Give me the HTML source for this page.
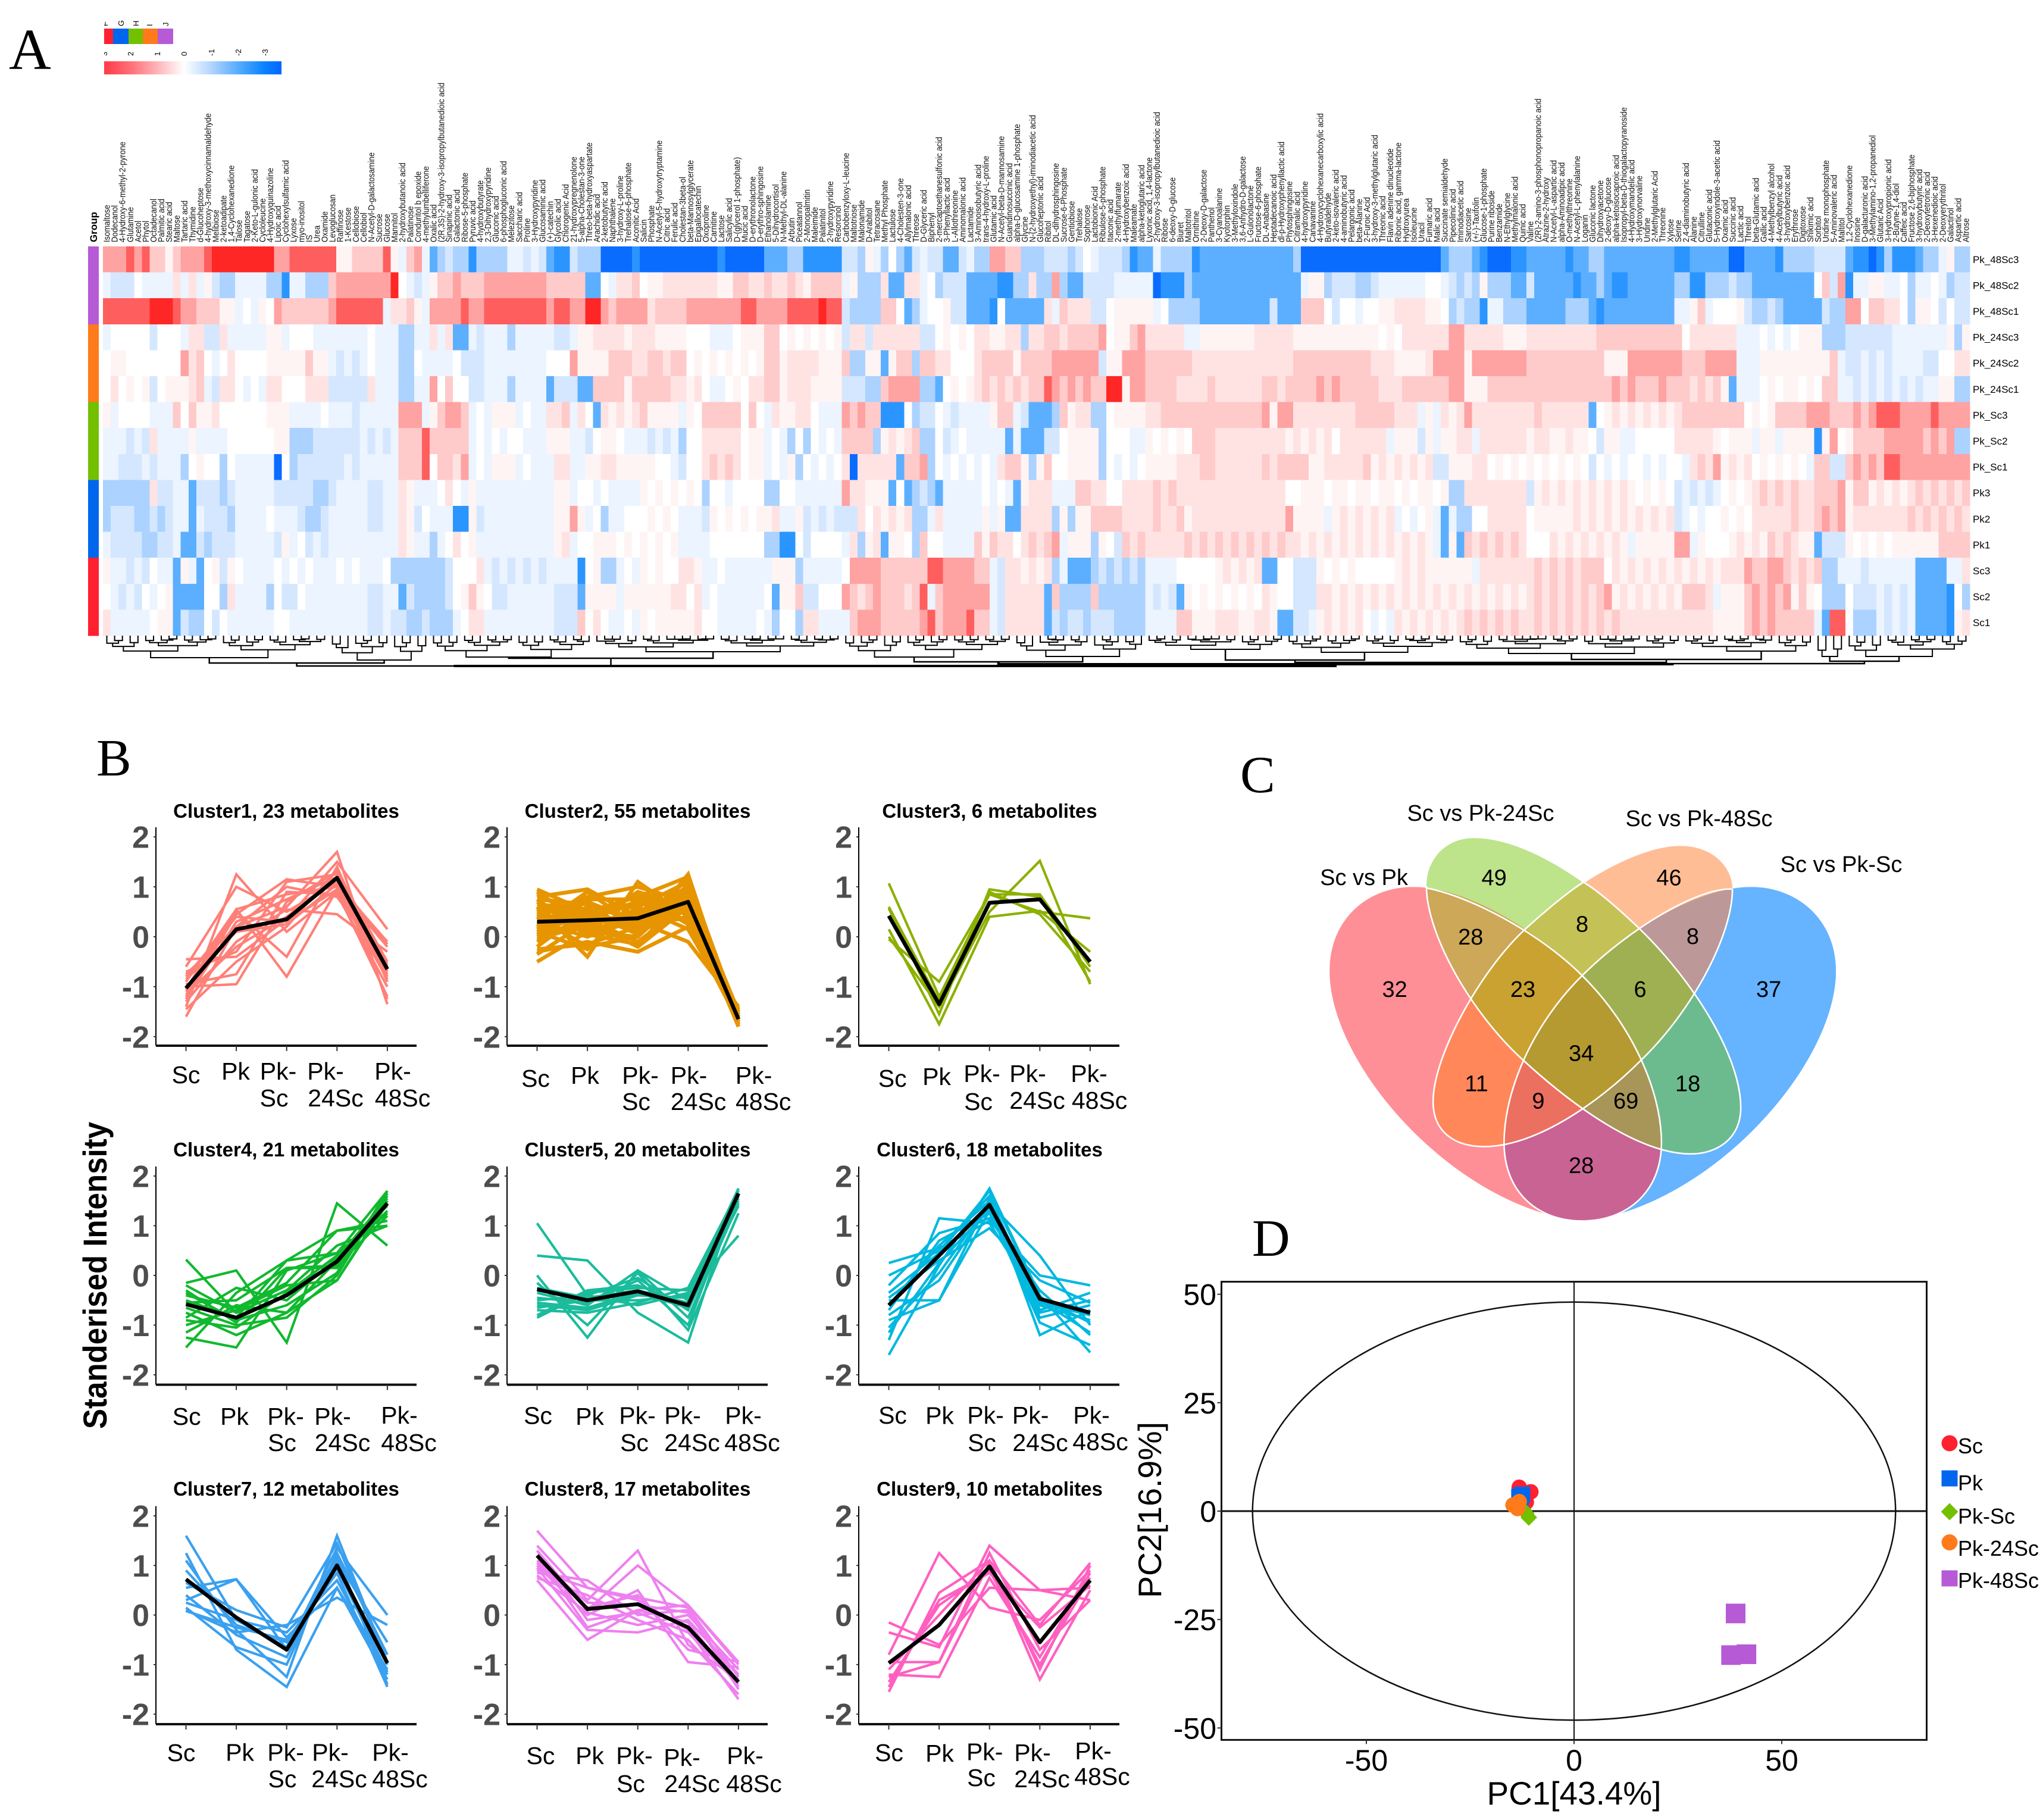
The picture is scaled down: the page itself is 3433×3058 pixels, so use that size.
<!DOCTYPE html>
<html lang="en">
<head>
<meta charset="utf-8">
<title>Metabolomics figure: heatmap, clusters, Venn and PCA</title>
<style>
html,body{margin:0;padding:0;background:#fff;}
svg{display:block;font-family:"Liberation Sans",sans-serif;}
.serif{font-family:"Liberation Serif",serif;}
</style>
</head>
<body>
<svg id="fig" xmlns="http://www.w3.org/2000/svg" width="3433" height="3058" viewBox="0 0 3433 3058">
<defs>
<linearGradient id="legendGrad" x1="0" x2="1" y1="0" y2="0">
<stop offset="0" stop-color="#ff3a46"/><stop offset="0.15" stop-color="#ff7078"/><stop offset="0.3" stop-color="#ffb4b8"/><stop offset="0.45" stop-color="#ffffff"/><stop offset="0.6" stop-color="#b4d6ff"/><stop offset="0.75" stop-color="#5aaeff"/><stop offset="0.9" stop-color="#0a84ff"/><stop offset="1" stop-color="#0066ff"/>
</linearGradient>
<clipPath id="legendClip"><rect x="175" y="20" width="320" height="80"/></clipPath>
<clipPath id="vR"><path d="M700 1470C400 1400 120 950 120 650C120 480 210 373 320 373C450 373 620 520 725 665C840 820 915 1040 915 1215C915 1380 830 1473 725 1473Z"/></clipPath>
<clipPath id="vG"><path d="M465 212C600 212 760 380 862 510C990 680 1105 930 1105 1100C1105 1200 1050 1252 985 1252C860 1252 700 1090 585 945C460 790 352 530 352 370C352 280 400 212 465 212Z"/></clipPath>
<clipPath id="vO"><path d="M960 238C1040 238 1085 310 1085 380C1085 530 990 780 865 945C760 1090 610 1228 490 1228C420 1228 368 1180 368 1080C368 930 480 650 590 510C690 380 850 238 960 238Z"/></clipPath>
<clipPath id="vB"><path d="M725 1473C620 1473 538 1380 538 1215C538 1040 610 820 725 665C830 520 1000 373 1130 373C1240 373 1333 480 1333 650C1333 950 1050 1400 750 1470Z"/></clipPath>
</defs>

<text class="serif" x="15" y="116" font-size="98">A</text>
<text class="serif" x="162" y="1303" font-size="88">B</text>
<text class="serif" x="2084" y="1331" font-size="88">C</text>
<text class="serif" x="2104" y="2110" font-size="88">D</text>

<g>
<rect x="175" y="48" width="15" height="26" fill="#ff2030"/>
<rect x="190" y="48" width="26" height="26" fill="#0066ee"/>
<rect x="216" y="48" width="24" height="26" fill="#72c000"/>
<rect x="240" y="48" width="25" height="26" fill="#ff7a1a"/>
<rect x="265" y="48" width="26" height="26" fill="#b65ad6"/>
<g clip-path="url(#legendClip)" font-size="13">
<text transform="translate(181,44) rotate(-90)">F</text>
<text transform="translate(208,44) rotate(-90)">G</text>
<text transform="translate(233,44) rotate(-90)">H</text>
<text transform="translate(256,44) rotate(-90)">I</text>
<text transform="translate(283,44) rotate(-90)">J</text>
</g>
</g>
<g>
<rect x="175" y="103" width="298" height="22" fill="url(#legendGrad)"/>
<g clip-path="url(#legendClip)" font-size="13">
<text transform="translate(180,94) rotate(-90)">3</text>
<text transform="translate(224,94) rotate(-90)">2</text>
<text transform="translate(269,94) rotate(-90)">1</text>
<text transform="translate(314,94) rotate(-90)">0</text>
<text transform="translate(360,94) rotate(-90)">-1</text>
<text transform="translate(405,94) rotate(-90)">-2</text>
<text transform="translate(450,94) rotate(-90)">-3</text>
</g>
</g>

<g id="heatmap"></g>
<g id="dendrogram" fill="none" stroke="#000"></g>
<g id="clusters"></g>
<text transform="translate(179,2143) rotate(-90)" text-anchor="middle" font-weight="bold" font-size="56" textLength="516" lengthAdjust="spacingAndGlyphs">Standerised Intensity</text>

<g id="venn">
<g transform="translate(2150,1300) scale(0.7015,0.5102)">
<rect clip-path="url(#vR)" x="0" y="0" width="1568" height="1568" fill="#ff8f96"/>
<rect clip-path="url(#vB)" x="0" y="0" width="1568" height="1568" fill="#66b3ff"/>
<rect clip-path="url(#vG)" x="0" y="0" width="1568" height="1568" fill="#bde38b"/>
<rect clip-path="url(#vO)" x="0" y="0" width="1568" height="1568" fill="#ffbd96"/>
<g clip-path="url(#vR)"><rect clip-path="url(#vG)" width="1568" height="1568" fill="#cca858"/></g>
<g clip-path="url(#vR)"><rect clip-path="url(#vO)" width="1568" height="1568" fill="#ff875a"/></g>
<g clip-path="url(#vR)"><rect clip-path="url(#vB)" width="1568" height="1568" fill="#c96394"/></g>
<g clip-path="url(#vG)"><rect clip-path="url(#vO)" width="1568" height="1568" fill="#c4c256"/></g>
<g clip-path="url(#vG)"><rect clip-path="url(#vB)" width="1568" height="1568" fill="#6cbb8e"/></g>
<g clip-path="url(#vO)"><rect clip-path="url(#vB)" width="1568" height="1568" fill="#bd9898"/></g>
<g clip-path="url(#vR)"><g clip-path="url(#vG)"><rect clip-path="url(#vO)" width="1568" height="1568" fill="#c9a231"/></g></g>
<g clip-path="url(#vR)"><g clip-path="url(#vG)"><rect clip-path="url(#vB)" width="1568" height="1568" fill="#a89558"/></g></g>
<g clip-path="url(#vR)"><g clip-path="url(#vO)"><rect clip-path="url(#vB)" width="1568" height="1568" fill="#ec7060"/></g></g>
<g clip-path="url(#vG)"><g clip-path="url(#vO)"><rect clip-path="url(#vB)" width="1568" height="1568" fill="#9fb053"/></g></g>
<g clip-path="url(#vR)"><g clip-path="url(#vG)"><g clip-path="url(#vO)"><rect clip-path="url(#vB)" width="1568" height="1568" fill="#b59a31"/></g></g></g>
<g fill="none" stroke="#fff" stroke-width="2.6">
<path vector-effect="non-scaling-stroke" d="M350 376C450 400 620 520 725 665C840 820 915 1040 915 1215C915 1380 830 1473 725 1473"/>
<path vector-effect="non-scaling-stroke" d="M725 1473C620 1473 538 1380 538 1215C538 1040 610 820 725 665C830 520 1000 373 1085 380"/>
<path vector-effect="non-scaling-stroke" d="M862 510C990 680 1105 930 1105 1100C1105 1200 1050 1252 985 1252C860 1252 700 1090 585 945C460 790 352 530 352 370"/>
<path vector-effect="non-scaling-stroke" d="M590 510C480 650 368 930 368 1080C368 1180 420 1228 490 1228C610 1228 760 1090 865 945C990 780 1085 530 1085 380"/>
<path vector-effect="non-scaling-stroke" d="M725 355C760 380 820 455 862 510"/>
<path vector-effect="non-scaling-stroke" d="M590 510C630 460 690 390 730 355"/>
</g>
</g>
<g font-size="38" text-anchor="middle">
<text x="2292" y="1487">Sc vs Pk</text>
<text x="2488" y="1379">Sc vs Pk-24Sc</text>
<text x="2855" y="1388">Sc vs Pk-48Sc</text>
<text x="3094" y="1465">Sc vs Pk-Sc</text>
</g>
<g font-size="38" text-anchor="middle" id="vennCounts"></g>
</g>

<g id="pca"></g>

<script>
const metabolites = ["Isomaltose","Dodecanol","4-Hydroxy-6-methyl-2-pyrone","Glutamine","Acetol","Phytol","Octadecanol","Palmitic acid","Stearic acid","Maltose","Tartaric acid","Thymidine","d-Glucoheptose","4-hydroxy-3-methoxycinnamaldehyde","Melibiose","2-ketoadipate","1,4-Cyclohexanedione","Talose","Tagatose","2-Keto-L-gulonic acid","Cycloleucine","4-Hydroxyquinazoline","Lipoic acid","Cyclohexylsulfamic acid","Lyxose","myo-inositol","IS","Urea","Oxamide","Levoglucosan","Raffinose","1-Kestose","Cellobiose","Cellobiol","N-Acetyl-D-galactosamine","Sucrose","Glucose","Mannitol","2-hydroxybutanoic acid","Palatinose","Conduritol b epoxide","4-methylumbelliferone","Oxalic acid","(2R,3S)-2-hydroxy-3-isopropylbutanedioic acid","Sinapinic acid","Galactonic acid","Ribose-5-phosphate","Pyruvic acid","4-hydroxybutyrate","2,3-Dihydroxypyridine","Gluconic acid","6-phosphogluconic acid","Melezitose","Saccharic acid","Proline","3-Hydroxypyridine","Glucosaminic acid","(+)-catechin","Glycolic acid","Chlorogenic Acid","21-hydroxypregnenolone","5-alpha-Cholestan-3-one","Threo-beta-hydroxyaspartate","Arachidic acid","2-ketobutyric acid","Naphthalene","3-hydroxy-L-proline","Trehalose-6-phosphate","Aconitic Acid","Salicin","Phosphate","N-Acetyl-5-hydroxytryptamine","Citric acid","Ferulic acid","Cholestan-3beta-ol","beta-Mannosylglycerate","Epigallocatechin","Oxoproline","Carnitine","Lactose","Salicylic acid","D-(glycerol 1-phosphate)","Mucic acid","D-erythronolactone","D-erythro-sphingosine","Ethanolamine","5-Dihydrocortisol","N-Methyl-DL-alanine","Arbutin","Piceatannol","2-Monopalmitin","Maleimide","Palatinitol","2-hydroxypyridine","Resorcinol","Carbobenzyloxy-L-leucine","Maltotriose","Malonamide","D-Arabitol","Tetracosane","Methyl Phosphate","Lactulose","4-Cholesten-3-one","Allylmalonic acid","Threose","D-Glyceric acid","Biphenyl","2-mercaptoethanesulfonic acid","3-Phenyllactic acid","L-Allothreonine","Aminomalonic acid","Lactamide","3-Aminoisobutyric acid","trans-4-hydroxy-L-proline","Glutamic acid","N-Acetyl-beta-D-mannosamine","Guanidinosuccinic acid","alpha-D-glucosamine 1-phosphate","Glycine","N-(2-hydroxyethyl)-iminodiacetic acid","Glucoheptonic acid","Ribitol","DL-dihydrosphingosine","Sucrose-6-Phosphate","Gentiobiose","Trehalose","Sophorose","Lactobionic Acid","Ribulose-5-phosphate","Itaconic acid","2-methylfumarate","4-Hydroxybenzoic acid","Maleamate","alpha-ketoglutaric acid","Lyxonic acid, 1,4-lactone","2-hydroxy-3-isopropylbutanedioic acid","Ribose","6-deoxy-D-glucose","Biuret","Maltotritol","Ornithine","2-Deoxy-D-galactose","Panthenol","3-Cyanoalanine","Kyotorphin","3-Methyloxindole","3,6-Anhydro-D-galactose","L-Gulonolactone","Fructose-6-phosphate","DL-Anabasine","Heptadecanoic acid","dl-p-Hydroxyphenyllactic acid","Phytosphingosine","Citramalic acid","4-hydroxypyridine","Canavanine","4-Hydroxycyclohexanecarboxylic acid","Butyraldehyde","2-keto-isovaleric acid","4-aminobutyric acid","Pelargonic acid","beta-Alanine","2-Furoic Acid","3-hydroxy-3-methylglutaric acid","Threonic acid","Flavin adenine dinucleotide","Ribonic acid, gamma-lactone","Hydroxyurea","Isoleucine","Uracil","Fumaric acid","Malic acid","Succinate semialdehyde","Pipecolinic acid","Iminodiacetic acid","Sarcosine","(+/-)-Taxifolin","Glucose-1-phosphate","Purine riboside","Benzamide","N-Ethylglycine","Methylmalonic acid","Quinic acid","Valine","(2R)-2-amino-3-phosphonopropanoic acid","Atrazine-2-hydroxy","N-Acetyl-L-aspartic acid","alpha-Aminoadipic acid","O-methylthreonine","N-Acetyl-L-phenylalanine","Loganin","Gluconic lactone","Dihydroxyacetone","2-deoxy-D-glucose","alpha-ketoisocaproic acid","Isopropyl-beta-D-thiogalactopyranoside","4-Hydroxymandelic acid","3-Hydroxynorvaline","Uridine","2-Methylglutaric Acid","Threonine","Xylose","Serine","2,4-diaminobutyric acid","Alanine","Citrulline","Glutaconic acid","5-Hydroxyindole-3-acetic acid","Oxamic acid","Succinic acid","Lactic acid","Threitol","beta-Glutamic acid","Gallic acid","4-Methylbenzyl alcohol","4-Acetylbutyric acid","3-hydroxybenzoic acid","Erythrose","Digitoxose","Shikimic acid","Sorbitol","Uridine monophosphate","5-Aminovaleric acid","Maltitol","1,2-Cyclohexanedione","Inosine","D-galacturonic acid","3-Methylamino-1,2-propanediol","Glutaric Acid","3-Hydroxypropionic acid","2-Butyne-1,4-diol","Caffeic acid","Fructose 2,6-biphosphate","3-hydroxybutyric acid","2-Deoxytetronic acid","3-Hexenedioic acid","2-Deoxyerythritol","Galactinol","Aspartic acid","Altrose"];
const sampleNames = ["Pk_48Sc3","Pk_48Sc2","Pk_48Sc1","Pk_24Sc3","Pk_24Sc2","Pk_24Sc1","Pk_Sc3","Pk_Sc2","Pk_Sc1","Pk3","Pk2","Pk1","Sc3","Sc2","Sc1"];
const groupColors = ["#b65ad6","#ff7a1a","#72c000","#0066ee","#ff2030"];

const heatPk48Sc3 = [4,4,4,5,4,5,3,3,1,3,4,4,4,5,6,6,6,6,6,6,
6,6,4,4,5,5,5,5,5,5,1,1,3,3,3,3,5,1,-1,3,
4,-1,-4,-3,-2,-3,-3,-5,-3,-3,-3,-3,-1,-1,-2,-1,-2,-4,-5,-5,
-2,-3,-3,-3,-6,-6,-6,-6,-5,-6,-6,-6,-6,-6,-6,-6,-6,-6,-6,-5,
-6,-6,-6,-6,-6,-4,-4,-4,-3,-3,-5,-5,-5,-5,-5,-2,-2,-3,1,-1,
-3,0,-3,-4,-2,-1,-2,-2,-4,-4,-2,-1,-3,-3,4,4,3,3,-3,-3,
-3,-2,-2,-2,-3,-2,0,-1,-2,-2,-2,-3,-5,-4,-4,-1,-3,-3,-3,-3,
-5,-4,-4,-4,-4,-4,-4,-4,-4,-4,-4,-4,-4,-3,-6,-6,-6,-6,-6,-6,
-6,-6,-6,-6,-6,-6,-6,-6,-6,-6,-6,-6,-4,-3,-3,-3,-4,-5,-6,-6,
-6,-5,-5,-4,-4,-4,-4,-4,-5,-4,-4,-3,-3,-4,-4,-4,-4,-4,-4,-4,
-4,-4,-5,-5,-4,-4,-4,-4,-4,-6,-6,-4,-4,-4,-4,-5,-3,-3,-3,-3,
-2,-2,-2,-2,-4,-5,-5,-6,-5,-3,-5,-5,-5,-4,-3,-3,-1,1,-3,-3];
const heatPk48Sc2 = [-1,-2,-2,-2,0,-1,-1,-1,-1,2,-1,2,-1,1,-2,-3,-3,-1,-1,-1,
-1,-3,-3,-5,-1,-1,-3,-3,-3,3,4,4,4,4,4,4,4,6,0,-1,
-2,-1,1,3,3,4,3,3,3,4,4,4,4,4,4,4,4,3,3,3,
3,3,-4,-4,0,-1,2,2,3,0,1,1,2,2,2,2,2,2,2,1,
1,3,3,2,2,3,2,2,3,2,1,3,3,3,3,-1,1,-3,-3,-3,
2,-4,-4,2,2,-1,0,-3,-2,-2,-2,-4,-4,-4,-4,-5,-5,-3,-3,2,
-3,-3,4,-3,-4,-4,-2,-2,-2,-2,-1,-1,-1,-1,-1,-6,-5,-5,-5,-3,
-4,-4,-4,-4,-4,-4,-4,-4,-4,-4,-4,-4,-4,-4,-1,1,1,-3,-2,-2,
-2,-3,-3,-2,-1,-1,-1,-1,-1,-1,0,0,-1,-2,-3,-2,-3,1,-3,-3,
-3,-4,-4,-2,-4,-4,-4,-4,-4,-5,-4,-4,-3,-4,-5,-5,-4,-4,-4,-4,
-4,-4,-3,-3,-5,-5,-3,-3,-3,-2,-3,-3,-4,-4,-4,-4,-4,-4,-4,-4,
0,3,-2,4,-5,-1,-1,1,1,-1,-1,0,-3,-1,-1,0,-1,-3,-2,-2];
const heatPk48Sc1 = [5,5,5,5,5,5,6,6,6,5,4,4,3,3,3,1,1,-1,0,-1,
1,0,4,3,3,3,3,3,3,4,5,5,5,5,5,5,-1,2,2,3,
1,-1,4,4,4,4,5,4,4,5,5,5,5,5,5,5,5,4,5,5,
4,4,6,6,4,3,4,4,4,4,2,3,3,3,3,4,4,4,4,4,
4,4,5,5,4,4,4,4,5,5,5,5,6,5,5,-2,-3,-3,-3,-3,
3,3,0,-4,-3,-1,0,0,1,-2,-2,-4,-4,-4,-5,0,-4,-4,-4,-4,
-4,2,-1,3,2,2,2,-2,-2,0,1,1,1,1,1,-1,0,-3,-3,-3,
-3,-4,-4,-4,-4,-4,-4,-4,-4,-4,-2,-4,-4,-4,3,3,3,0,-2,0,
0,-1,0,0,1,1,2,2,2,2,1,1,0,-3,-2,-3,-3,-5,-1,-1,
-3,-3,-3,-4,-4,-4,-4,-4,-3,-3,-3,-4,-5,-4,-4,-4,-4,-4,-4,-4,
-4,-4,-1,-1,1,3,-1,0,0,0,1,-2,-3,-3,-2,-3,-4,-4,-4,-4,
-4,-2,-3,-3,4,4,0,3,3,2,2,0,-3,1,1,0,-2,0,-2,-2];
const heatPk24Sc3 = [-1,0,0,0,0,0,-2,0,0,0,-1,2,2,-2,-2,2,-1,-1,-1,-1,
-1,1,1,-1,0,0,0,-1,-1,-1,-1,-1,-1,-1,0,-1,-1,-1,-3,-3,
-1,-1,2,-1,2,-4,-4,-1,-2,-1,-1,-1,-3,-1,-1,-1,-1,-1,-2,-2,
-1,1,1,2,2,2,2,1,2,2,2,1,1,1,1,0,0,0,-1,-1,
-1,0,1,1,1,3,3,0,1,0,1,0,1,0,1,-2,2,2,-2,2,
2,2,2,2,2,-2,-2,0,1,0,1,0,2,2,1,1,2,2,-3,2,
2,3,3,2,3,3,3,3,4,0,1,1,3,4,2,2,2,2,2,-1,
-1,1,1,1,1,1,1,1,2,2,2,2,2,1,1,1,1,1,1,1,
1,1,1,1,0,1,0,2,2,2,2,2,2,4,4,2,2,2,2,2,
1,1,1,2,2,2,2,2,2,2,2,2,3,3,3,3,3,3,3,3,
3,3,3,0,2,2,2,2,2,2,-1,-1,-1,0,-1,0,-1,0,1,1,
1,-3,-3,-3,-2,-2,-2,-2,-2,-2,-1,-1,-1,-1,-1,-1,-1,1,-3,1];
const heatPk24Sc2 = [0,1,1,0,0,0,0,0,0,0,4,2,3,0,-1,0,2,0,0,0,
0,1,1,1,1,1,3,1,1,-1,-2,-1,-2,-1,0,-1,-1,-1,-3,-3,
0,-1,-1,-1,-1,0,-2,-2,-2,-1,-1,-1,-1,-1,-1,-1,-1,0,0,0,
4,1,1,1,1,3,3,3,2,2,3,3,2,3,3,0,1,0,1,0,
1,0,1,0,1,3,3,1,2,2,2,2,1,1,1,3,-3,-3,1,1,
-4,1,3,3,-3,3,3,2,2,0,0,0,2,3,3,3,3,1,3,3,
3,3,4,4,4,4,4,4,-2,1,1,4,4,4,3,3,3,3,3,3,
2,2,2,2,2,2,2,2,2,2,2,2,2,3,3,3,3,3,3,3,
3,3,3,2,2,2,1,1,1,1,2,4,4,4,4,1,4,4,4,4,
4,4,4,3,3,3,3,3,3,3,3,3,3,1,1,1,4,4,4,4,
4,4,4,3,3,3,4,4,4,4,-1,-1,-1,1,1,1,1,1,1,1,
1,1,3,-1,-2,-2,-1,-2,-1,-2,-1,-1,-1,-1,-2,-2,0,0,2,2];
const heatPk24Sc1 = [0,2,0,1,0,1,-2,0,1,1,1,2,3,-1,-2,2,2,0,-1,0,
-1,2,2,0,0,0,2,2,2,-2,-2,-2,-2,-2,2,-1,-1,-1,-3,-3,
-1,-1,4,0,3,0,0,-2,-2,-1,-1,-1,-3,-1,-1,-1,-1,-4,-2,-2,
-2,-4,-4,3,3,3,3,1,3,3,3,3,3,2,2,1,2,0,-1,-1,
0,1,0,2,2,3,3,1,2,2,2,1,1,1,1,-2,-2,-2,-3,-3,
3,4,4,4,4,-3,-3,-4,0,1,0,1,2,3,2,3,2,3,2,3,
3,5,4,3,4,3,4,3,3,6,6,1,4,4,3,3,3,3,2,2,
2,2,3,2,2,2,2,2,2,3,3,2,3,3,3,3,4,3,4,3,
3,3,3,3,2,2,2,3,3,3,3,3,3,4,4,1,1,1,3,3,
3,3,3,3,3,3,3,3,3,3,3,3,3,3,4,3,4,3,3,3,
4,3,3,3,2,3,2,3,1,-4,-1,-1,-1,0,1,0,1,1,0,1,
0,3,3,-1,-1,-2,-1,-2,-1,-2,-1,-2,-1,-2,-1,-1,1,1,-3,-3];
const heatPkSc3 = [1,-1,0,0,0,0,-1,-1,-1,3,0,3,1,1,2,0,0,0,0,0,
0,1,1,1,-1,-1,-1,-1,0,-1,-1,-1,-2,-1,-1,-1,-1,-1,4,4,
4,-1,1,3,4,4,3,-1,0,-1,1,1,1,-1,0,-1,-1,2,2,3,
-1,2,0,-4,2,1,2,1,2,3,1,1,1,1,-1,1,0,3,3,3,
3,3,0,3,0,-1,2,1,1,2,2,0,-1,-1,-1,4,3,4,3,3,
-5,-5,-5,0,-3,-2,-2,0,-1,-2,-1,-1,-1,-1,1,3,3,-1,-2,-4,
-4,-4,-3,3,1,2,2,-3,-3,0,1,1,1,1,2,2,3,3,3,3,
3,3,3,3,3,3,3,3,3,4,1,4,4,2,2,2,2,2,2,2,
2,3,3,3,3,3,2,2,2,-1,1,-1,2,1,2,4,2,2,2,2,
2,2,2,2,3,2,2,2,2,2,2,-4,0,1,2,1,2,1,2,1,
2,1,2,3,3,3,3,3,3,3,3,0,1,0,1,3,3,3,3,4,
4,4,3,3,3,4,3,4,5,5,5,4,4,4,4,5,4,4,4,4];
const heatPkSc2 = [-1,-1,-1,-2,-1,-2,2,-1,-1,-1,-1,1,-1,-1,-1,-1,0,0,0,0,
0,0,1,1,-3,-3,-3,-2,-2,-2,-2,-2,-2,-1,-2,-1,-2,-1,3,3,
3,5,3,3,3,3,3,-1,0,-1,0,-1,0,0,-1,-1,-1,1,1,1,
-1,-1,-2,0,1,1,0,-1,-1,-1,-2,-1,-2,-1,-3,0,0,2,2,2,
2,2,0,1,1,-1,0,-1,-3,0,-3,0,-1,0,-1,3,3,3,3,-3,
1,2,1,2,3,-3,-3,0,-2,-1,0,-1,-1,-1,-1,-1,-4,-1,-4,-4,
-4,-2,-2,0,1,1,1,1,-3,0,0,0,-1,-1,1,0,1,0,1,0,
3,3,3,2,2,2,2,2,2,2,2,2,1,2,1,2,1,2,0,2,
2,2,2,2,2,-1,1,1,1,-2,1,-1,1,1,2,2,-1,2,2,2,
2,2,2,1,2,2,1,1,2,1,1,0,-2,1,1,-1,-1,0,0,0,
0,0,2,2,2,2,2,1,0,1,1,1,-1,1,1,-1,1,1,1,1,
-5,1,4,0,1,3,3,3,3,4,4,4,4,4,3,4,3,4,-3,-3];
const heatPkSc1 = [-1,-1,-2,-2,-2,-1,-2,-1,-1,-1,-3,0,1,0,0,-3,0,-1,-1,-1,
-1,-1,-6,0,-3,-2,-2,-2,-2,-2,-2,-1,-2,-1,-1,-1,-1,-1,3,3,
3,5,0,3,3,2,4,-1,0,-1,1,1,1,-1,0,-1,-1,-1,2,2,
-1,-1,1,1,2,2,1,1,1,1,1,0,0,-1,-2,0,0,2,3,2,
3,2,0,1,1,-1,0,-1,1,-3,0,-1,0,-1,0,2,-6,2,2,2,
2,2,-4,3,3,4,-3,0,-1,0,-1,0,-1,0,-1,2,3,3,1,-3,
1,3,0,0,1,1,1,1,-3,0,-1,0,-1,0,1,1,1,1,2,2,
2,3,3,2,2,2,2,2,2,3,2,3,3,3,3,1,1,2,2,2,
2,2,3,1,2,1,2,1,2,1,2,-2,-2,1,1,1,2,2,0,1,
0,1,0,1,0,1,0,1,0,1,0,-2,0,-1,0,-1,0,0,-1,0,
-1,0,0,-1,2,3,2,4,1,2,1,2,0,1,0,1,0,1,0,-1,
3,3,-2,-2,3,4,3,4,3,5,5,4,4,4,4,4,4,4,4,4];
const heatPk3 = [-3,-3,-3,-3,-3,-3,2,-2,-2,-1,-1,-4,-2,-2,-2,-3,-2,-1,-1,-1,
-1,-1,-2,-2,-2,-2,-2,-3,-3,-2,-1,-1,-1,-1,-2,-2,-1,-1,2,1,
-1,-1,-1,0,2,0,-1,1,-1,-1,-1,-1,-1,-1,-1,-1,-1,-1,1,1,
-1,0,0,-1,0,-1,-1,-1,-1,1,0,1,0,1,0,1,0,-3,0,0,
-1,0,0,0,0,-3,-3,0,0,-1,-1,-1,-1,-1,-1,4,2,2,1,1,
1,-4,0,-4,-3,-2,-3,-4,-1,-1,-1,-1,-1,0,-1,0,-1,-4,1,2,
2,2,-1,-1,-1,3,3,2,2,0,0,2,2,2,2,3,2,3,2,2,
2,2,2,2,2,2,2,2,2,2,2,2,0,0,1,1,1,0,1,1,
0,1,1,0,1,1,0,1,0,1,1,0,1,-3,-3,2,2,2,2,2,
2,2,2,-2,1,2,1,2,1,2,1,2,1,2,1,2,1,0,1,0,
1,0,-2,-1,-2,-1,-2,-1,0,1,0,1,2,3,2,3,2,3,2,2,
3,3,3,4,1,3,3,1,2,1,2,1,2,3,2,3,2,3,2,3];
const heatPk2 = [-3,-2,-2,-2,-3,-3,-2,-3,-2,-1,-1,-4,-1,-2,-2,-2,-3,-1,-1,-1,
-1,0,-1,-1,-1,-2,-3,-3,-2,-1,-1,-1,-1,-1,-2,-2,-1,-1,2,1,
-2,0,-1,-1,-1,-5,-5,1,-2,-1,-1,-1,-1,-1,-1,-1,-1,-1,1,1,
4,1,-1,0,-3,-1,-1,0,0,0,1,0,1,0,-1,-1,-1,-2,1,0,
1,0,1,0,1,1,2,-1,-1,1,-2,-1,-2,-1,-2,-2,-2,2,0,2,
1,2,1,2,-3,-3,-1,2,-1,-1,-1,-1,-1,1,-1,1,-4,-4,2,2,
2,2,-3,1,-3,1,1,3,3,3,3,2,2,2,2,3,2,2,3,1,
2,2,2,2,2,2,2,2,2,2,2,2,4,1,1,1,1,-1,1,2,
1,2,1,2,1,2,-1,0,-1,0,1,-1,-4,-1,-3,-3,0,0,2,2,
2,2,2,0,1,1,1,1,1,2,1,2,1,2,1,2,1,2,1,2,
1,2,-2,-1,0,-1,0,0,1,0,1,0,2,2,2,2,2,3,2,2,
3,4,3,4,1,2,2,2,2,2,2,2,3,2,3,2,3,2,3,2];
const heatPk1 = [-1,-2,-2,-2,-2,-3,-3,-2,-2,-1,-4,-4,-2,-3,-2,-2,-2,-1,-1,-1,
-1,-1,-2,1,-1,0,-2,-1,-2,-1,-1,-1,-1,-1,-1,-1,-1,-1,2,1,
-1,-1,-3,-1,0,2,0,1,-1,-1,-1,-1,-1,-1,-1,-1,-1,-1,1,2,
-1,0,0,1,1,1,0,1,0,1,0,1,0,1,-1,-1,-1,-1,0,0,
0,0,0,0,0,-3,-3,-5,-5,0,-2,0,0,0,0,-1,2,-3,1,2,
-4,1,1,0,-3,3,0,0,-1,-1,-1,-1,3,1,3,2,2,0,2,3,
2,3,4,-1,1,1,1,-3,1,0,-2,3,2,3,2,2,2,2,2,3,
2,3,2,3,2,3,2,3,2,3,2,3,2,2,1,2,1,2,1,2,
1,2,1,2,1,2,1,2,1,2,1,-1,-4,1,-4,3,2,3,2,3,
2,3,2,0,0,0,2,1,2,1,2,1,2,1,2,1,-1,1,1,1,
1,1,4,4,-1,1,0,0,0,1,2,1,2,1,3,2,3,2,1,1,
-4,-2,-2,-2,1,0,1,0,1,0,1,1,1,1,1,1,3,3,3,3];
const heatSc3 = [1,-1,-1,-2,-1,-2,0,-1,-1,-4,1,-1,-4,0,1,-2,1,0,-1,-1,
-1,-1,0,-1,0,-1,0,-1,-1,-1,0,-1,0,-1,-1,-1,0,-3,-3,-3,
-3,-3,-3,-3,-2,0,0,0,2,-1,-2,-1,-2,-1,-2,-1,-2,-1,-1,-1,
-1,-5,0,1,-3,-3,-1,0,-1,1,0,1,0,0,2,2,1,-1,-1,0,
-1,-1,-1,-1,-1,-1,1,1,1,-3,-1,-1,-1,-1,-1,0,4,4,4,4,
3,3,3,3,3,3,5,5,4,4,4,4,3,3,-1,-2,2,2,1,2,
1,2,-3,-1,-4,-4,-4,-3,-2,-3,-2,-3,-2,-3,-1,-1,-1,-1,0,0,
0,0,0,1,2,1,2,1,2,-4,-4,0,0,-2,-2,-2,1,0,1,0,
1,0,0,0,0,0,1,2,1,2,1,1,1,1,1,1,-1,2,2,2,
2,2,2,2,3,2,3,2,3,2,3,3,3,0,2,1,2,1,2,1,
2,1,2,1,2,1,2,1,2,2,2,4,3,3,4,4,3,2,3,2,
3,-3,-3,-1,-1,-1,-2,-1,-1,-1,-1,-1,-1,-4,-4,-4,-4,-1,-1,2];
const heatSc2 = [0,-1,-2,-1,-2,0,-1,0,1,-4,-4,-4,-4,0,0,-3,2,-1,-1,-1,
-1,-3,0,-2,-2,0,-1,-1,-1,-1,-1,-1,-1,-1,-2,-2,-1,-1,-4,-2,
-3,-3,-3,-3,-2,0,1,3,1,0,-2,-2,-1,-1,-1,-1,-1,-1,-2,-2,
-2,-4,1,1,1,1,-1,1,1,1,1,1,1,2,2,0,2,-1,0,-1,
-1,-1,-1,-1,-1,0,-4,1,1,3,-2,-2,0,0,0,4,3,2,3,4,
3,3,3,2,3,5,-1,3,4,4,4,4,4,4,-1,-2,2,2,2,2,
2,-4,3,-3,-3,-3,-3,3,-3,-3,-3,-3,-3,-3,-1,-2,-1,-2,-4,1,
0,1,0,1,0,1,0,1,0,2,1,0,0,-2,-2,-2,2,2,1,2,
1,2,1,2,1,2,1,2,1,2,1,2,1,2,1,2,1,2,1,2,
1,2,1,2,3,2,3,2,3,2,3,2,3,4,1,2,1,2,1,2,
1,2,1,3,3,3,2,-1,1,1,1,3,4,3,4,3,4,1,3,1,
0,-3,-3,-3,0,-2,-2,-2,-1,-2,-1,-2,-1,-4,-4,-4,-4,-5,0,-3];
const heatSc1 = [2,-1,-1,-1,-1,-1,0,1,1,-4,-2,-3,-3,0,-2,0,-1,-1,-1,-1,
-1,-1,0,0,-1,-1,-1,-1,-1,-1,-1,-1,-1,-1,-2,-2,-1,-2,-2,-3,
-3,-2,-3,-3,-3,-1,0,2,2,-1,-1,-1,-1,-1,-1,-1,-1,-1,-2,-2,
-2,3,0,2,0,-1,-1,0,-1,1,0,1,1,1,1,1,2,0,0,-1,
-1,-1,-1,-1,0,-1,-3,0,0,-3,2,2,-1,-1,-1,-1,3,4,4,4,
3,3,3,3,3,4,5,3,4,4,4,5,3,3,-1,-2,2,2,2,2,
2,-4,-2,-3,-2,-2,-3,-2,-2,-2,-3,-3,-3,-3,-1,-1,-1,-1,3,3,
1,1,1,2,2,2,1,1,2,2,1,-4,-4,-2,-2,-1,1,2,1,2,
1,2,0,-1,0,-1,2,1,2,1,2,1,2,1,2,3,2,3,2,3,
2,3,2,2,3,2,3,2,3,2,3,2,3,2,3,2,2,2,2,2,
2,2,2,2,2,2,2,1,1,1,1,3,4,3,4,3,3,3,3,3,
-1,-4,5,5,0,-3,-3,-3,-1,-2,-1,-2,-1,-4,-4,-4,-4,-5,1,2];
const heatRows = [heatPk48Sc3,heatPk48Sc2,heatPk48Sc1,heatPk24Sc3,heatPk24Sc2,heatPk24Sc1,heatPkSc3,heatPkSc2,heatPkSc1,heatPk3,heatPk2,heatPk1,heatSc3,heatSc2,heatSc1];

const clusterTimepoints = ["Sc","Pk","Pk-Sc","Pk-24Sc","Pk-48Sc"];
const yTickValues = [2,1,0,-1,-2];
const clusterTitles = ["Cluster1, 23 metabolites","Cluster2, 55 metabolites","Cluster3, 6 metabolites","Cluster4, 21 metabolites","Cluster5, 20 metabolites","Cluster6, 18 metabolites","Cluster7, 12 metabolites","Cluster8, 17 metabolites","Cluster9, 10 metabolites"];
const clusterColors = ["#ff8078","#e69500","#8cb000","#10b92e","#1abc9c","#00b8e0","#3aa0f0","#ee80f0","#ff60c0"];
const clusterMeans = [[-1.03,.15,.35,1.18,-.65],[.3,.33,.37,.7,-1.65],[.42,-1.35,.68,.75,-.5],[-.58,-.85,-.4,.28,1.45],[-.28,-.5,-.32,-.6,1.65],[-.6,.4,1.42,-.47,-.75],[.72,-.05,-.7,1.0,-.97],[1.2,.12,.22,-.25,-1.35],[-.97,-.2,.98,-.55,.7]];
const cluster1Lines = [[-1.6,.2,.6,1.7,-1.35],[-1.4,1.25,.1,.9,-1.2],[-.45,-.4,.35,1.5,.15],[-.6,1.0,.5,1.1,-.15],[-1.2,.45,1.15,1.0,-.7],[-1.0,-.95,.7,1.3,-.5],[-.9,.55,-.8,.95,-.85],[-1.1,.5,-.4,1.4,-.9],[-.7,-.3,1.1,1.25,-.6],[-1.3,-.1,.55,.45,-.3],[-.85,.1,.25,1.05,-.1],[-.95,-.75,.9,.85,-1.0],[-1.25,.3,.75,1.2,-1.25],[-.8,.4,.3,.95,-.75],[-1.45,-.5,.2,1.35,-.65],[-1.05,.55,.85,1.0,-.2],[-.75,.2,1.0,.8,-.55],[-1.15,-.2,.4,1.15,-.8]];
const cluster2Lines = [[-.5,.1,.0,1.25,-1.8],[.95,.5,.8,.7,-1.75],[.8,.95,.4,.9,-1.6],[-.3,-.1,-.3,.2,-1.5],[.6,-.4,1.1,.4,-1.7],[.2,.7,.3,-.1,-1.4],[.5,.5,.6,1.1,-1.65],[-.1,.4,.7,.3,-1.55],[.4,-.2,.0,.9,-1.7],[.7,.2,.9,.6,-1.8],[-.25,-.15,.2,.7,-1.6],[.1,.6,.1,.8,-1.5],[.35,.3,.45,1.0,-1.75],[.55,.05,.55,.5,-1.45],[.0,.35,-.1,.65,-1.7],[.75,.65,.3,1.15,-1.6],[.25,.45,.65,.85,-1.55],[.45,.15,.25,.75,-1.65],[-.05,.25,.5,.95,-1.75],[.65,.55,.15,.55,-1.5],[.3,.0,.35,.35,-1.6],[.15,.75,.75,.45,-1.7],[.5,.1,.4,.6,-1.65],[.05,.5,.05,1.05,-1.55],[.6,.35,.85,.25,-1.7],[.9,.2,.55,.35,-1.7],[-.2,.55,.6,.15,-1.6],[.1,-.25,.8,1.2,-1.7],[.75,.05,-.15,.85,-1.55],[.2,.9,.2,.4,-1.65],[-.35,.3,-.2,.6,-1.6],[.4,.8,1.0,.7,-1.75],[.85,.4,.1,.95,-1.5]];
const cluster3Lines = [[1.07,-1.2,.85,.85,-.6],[.57,-1.55,.95,.8,-.9],[.15,-1.75,.4,.52,-.3],[-.05,-.9,.85,.5,.37],[.0,-1.4,.5,1.52,-.95],[.6,-1.3,.9,.45,-.7]];
const cluster4Lines = [[.32,-.75,-.3,.25,1.5],[-.15,.1,-1.35,1.45,.6],[-1.45,-.35,.3,.9,1.0],[-1.25,-1.45,.1,.45,1.7],[-1.15,-.6,-.75,.3,1.3],[-.3,-.95,.15,.15,1.6],[-.75,-1.2,-.75,-.1,1.45],[-.55,-.5,.15,.2,1.2],[-.2,-.75,-.3,.6,1.0],[-.85,-.25,-.5,.35,1.55],[-.65,-1.0,-.85,.0,1.65],[-.4,-.65,-.15,.9,1.1],[-.9,-1.05,-.35,.4,1.4],[-.5,-.85,.3,.45,1.25],[-.35,-.9,-.6,.05,1.7],[-1.0,-.7,-.2,-.1,1.5]];
const cluster5Lines = [[1.05,-.4,-.6,-.35,.8],[.4,.3,-.75,-1.35,1.75],[.0,-1.25,.1,-.85,1.45],[-.15,-1.0,.05,-1.1,1.25],[-.85,-.35,-.25,-.3,1.6],[-.7,-.75,-.55,-.25,1.7],[-.5,-.4,-.05,-.7,1.5],[-.65,-.5,-.5,-.4,1.75],[-.35,-.6,.1,-.5,1.6],[-.8,-.3,-.2,-.6,1.4],[-.45,-.55,-.1,-1.0,1.65],[-.6,-.7,-.4,-.45,1.55],[-.25,-.45,-.3,-.55,1.7],[-.55,-.65,-.35,-.65,1.6]];
const cluster6Lines = [[.25,.55,1.1,.0,-.2],[-1.6,.2,1.75,-.4,-1.55],[-1.3,1.15,1.05,-.5,-1.15],[.0,.5,1.6,-.7,-.35],[-.9,-.5,1.3,-.95,-1.4],[-.5,-.5,1.55,-1.2,-.7],[-.45,.3,.95,-.1,-.55],[-1.05,.05,1.45,.4,-1.0],[-.7,.7,1.25,-.6,-.9],[-.35,.45,1.7,-.45,-.95],[-.8,-.1,1.4,-.75,-.5],[-.2,.85,1.15,-.3,-1.2],[-.6,.6,1.5,-.55,-.8],[-1.15,.25,1.35,-.85,-.6]];
const cluster7Lines = [[1.6,-.1,-.65,1.2,-1.4],[1.25,-.7,-1.45,.55,-1.1],[1.1,-.3,-1.25,1.6,-.95],[.55,.72,-.7,1.35,.0],[.1,-.35,-.2,.35,-.2],[.25,-.1,-.35,.7,-1.2],[.4,-.4,-.85,1.1,-.55],[.08,-.25,-.5,.85,-1.45],[.65,.1,-.25,1.45,-1.0],[.3,.72,-.45,.55,-1.3],[.15,-.65,-1.0,1.25,-.8],[.9,-.2,-.55,.95,-1.15]];
const cluster8Lines = [[1.7,.55,.3,-.3,-1.7],[1.4,.3,1.3,-.6,-1.3],[1.3,.1,1.0,.2,-1.0],[.7,-.5,.1,.2,-.95],[.85,.7,.0,.1,-1.5],[.95,-.3,-.35,-.1,-1.2],[1.0,.0,.5,-.95,-1.05],[.75,.4,-.1,-.5,-1.6],[1.1,.25,.2,.05,-1.35],[.9,.55,.35,.15,-1.25],[1.2,-.25,.1,-.15,-1.45],[.8,.05,-.2,.0,-1.1],[1.05,.15,.4,-.7,-.95],[1.3,-.1,.05,-.35,-1.4]];
const cluster9Lines = [[-.35,-.65,1.4,.5,.3],[-.15,-.6,.55,.5,.55],[-.8,1.25,.15,-.1,.9],[-1.55,.45,1.1,-.2,1.05],[-1.25,-.95,1.05,-1.3,.5],[-1.35,.2,.9,-1.0,.75],[-1.2,-1.25,.75,-.85,.85],[-.95,-.95,1.25,-.7,.3],[-1.1,.0,1.1,-1.1,1.0],[-1.45,.3,.85,-.25,.6]];
const clusterLines = [cluster1Lines,cluster2Lines,cluster3Lines,cluster4Lines,cluster5Lines,cluster6Lines,cluster7Lines,cluster8Lines,cluster9Lines];

const vennCounts = [32,49,46,37,28,8,8,23,6,34,11,9,69,18,28];
const pcaXTicks = [-50,0,50];
const pcaYTicks = [50,25,0,-25,-50];
const pcaSc = [[-13.2,5.5],[-10.4,4.45],[-11.5,2.05]];
const pcaPk = [[-13.2,3.3],[-12.9,2.6],[-12.5,3.8]];
const pcaPkSc = [[-10.9,-1.45],[-11.5,-.5],[-12.2,.3]];
const pcaPk24Sc = [[-14.7,1.4],[-13.2,2.2],[-13.6,.6]];
const pcaPk48Sc = [[38.9,-23.6],[37.8,-33.2],[41.5,-33.0]];
const pcaGroups = ["Sc","Pk","Pk-Sc","Pk-24Sc","Pk-48Sc"];
const pcaSeries = [pcaSc,pcaPk,pcaPkSc,pcaPk24Sc,pcaPk48Sc];

const NS = "http://www.w3.org/2000/svg";
function mk(parent, tag, attrs, txt){
  const el = document.createElementNS(NS, tag);
  for (const k in attrs) el.setAttribute(k, attrs[k]);
  if (txt !== undefined) el.textContent = txt;
  parent.appendChild(el);
  return el;
}

/* heatmap */
const heatG = document.getElementById('heatmap');
const HM = {left:173, right:3310, top:414, bottom:1068};
const colW = (HM.right-HM.left)/metabolites.length;
const rowH = (HM.bottom-HM.top)/heatRows.length;
const posRamp = ["#ffffff","#fff4f4","#ffe3e3","#ffcaca","#ffa2a2","#ff5e5e","#ff2626"];
const negRamp = ["#ffffff","#ebf4ff","#d4e7ff","#acd2ff","#5cafff","#2b95ff","#0a6cff"];
function levelColor(v){
  const a = Math.max(0, Math.min(6, Math.round(Math.abs(v))));
  return v >= 0 ? posRamp[a] : negRamp[a];
}
function colX(i){ return HM.left + i*colW; }
function rowY(r){ return HM.top + r*rowH; }
heatRows.forEach(function(vals, r){
  vals.forEach(function(v, c){
    const cell = mk(heatG, 'rect', {x:colX(c).toFixed(2), y:rowY(r).toFixed(2), width:(colW+0.4).toFixed(2), height:(rowH+0.4).toFixed(2), fill:levelColor(v), 'shape-rendering':'crispEdges'});
    
    
  });
  const lab = mk(heatG, 'text', {x:3315, y:(rowY(r)+rowH/2+6).toFixed(1), 'font-size':17}, sampleNames[r]);
  
  
  const seg = mk(heatG, 'rect', {x:148, y:rowY(r).toFixed(2), width:18, height:(rowH+0.4).toFixed(2), fill:groupColors[Math.floor(r/3)], 'shape-rendering':'crispEdges'});
  
  
});
metabolites.forEach(function(name, c){
  const cx = colX(c)+colW/2+5;
  const t = mk(heatG, 'text', {transform:'translate('+cx.toFixed(2)+',407) rotate(-90) scale(0.897,1)', 'font-size':14.5, fill:'#111'}, name);
  
  
});
const groupTitle = mk(heatG, 'text', {transform:'translate(163,407) rotate(-90)', 'font-size':17, 'font-weight':'bold'}, 'Group');



/* dendrogram */
const dendroG = document.getElementById('dendrogram');
const dendroBlocks = [[0,28,37],[29,41,41],[42,62,36],[63,94,27],[95,116,36],[117,133,35],[134,151,23],[152,173,28],[174,202,30],[203,219,26],[220,223,35],[224,239,35]];
const dendroMerges = [[0,1,46],[2,3,38],[4,5,44],[6,7,41],[8,9,40],[10,11,43],[15,16,45],[18,17,47],[12,13,51],[14,19,48],[20,21,51]];
const dendroSplits = [.5,.35,.62,.28,.7,.45,.55,.3,.66,.4];
let splitIdx = 0;
function branch(a, b, h, w){
  const p = mk(dendroG, 'path', {d:'M'+a.x.toFixed(1)+' '+a.y.toFixed(1)+'V'+(HM.bottom+h).toFixed(1)+'H'+b.x.toFixed(1)+'V'+b.y.toFixed(1), 'stroke-width':w});
  
  
  return {x:(a.x+b.x)/2, y:HM.bottom+h};
}
function grow(a, b, h){
  if (a >= b) return {x:colX(a)+colW/2, y:HM.bottom};
  const frac = dendroSplits[splitIdx++ % dendroSplits.length];
  const mid = a + Math.max(0, Math.min(b-a-1, Math.floor((b-a)*frac)));
  const childH = Math.max(h*0.7, 6);
  return branch(grow(a, mid, childH), grow(mid+1, b, childH*0.92), h, 2);
}
const dendroNodes = dendroBlocks.map(function(b){ return grow(b[0], b[1], b[2]); });
dendroMerges.forEach(function(m, i){
  dendroNodes.push(branch(dendroNodes[m[0]], dendroNodes[m[1]], m[2], i >= dendroMerges.length-2 ? 4 : 2.5));
});

/* cluster panels */
const clusterG = document.getElementById('clusters');
const colAxisX = [262,852,1443];
const rowGeom = [{zero:1574,unit:83.9,top:1390,bottom:1757,title:1374},{zero:2143,unit:83.5,top:1960,bottom:2326.6,title:1943},{zero:2713.6,unit:83.3,top:2530.6,bottom:2897,title:2513}];
const titleCentres = [481,1071.5,1663];
const tickLabelLayout = [
[[312.5,1805],[396,1799],[467.5,1799,460.6,1844],[547,1799,564,1844],[660,1799,676.5,1844]],
[[900,1811],[983,1806],[1076,1806,1069,1850],[1157.5,1806,1173.6,1850],[1266.6,1806,1282.7,1850]],
[[1499.7,1811],[1574,1808],[1650,1803,1644,1850],[1727,1803,1743,1848],[1830,1803,1847.6,1848]],
[[313.7,2379],[394,2379],[480,2379,474,2423],[559,2379,575.5,2423],[671,2377,687,2423]],
[[904,2377.5],[991,2379],[1071,2377.5,1066,2423],[1147,2377.5,1163,2423],[1249,2377.5,1264,2423]],
[[1500,2377],[1579,2377.5],[1656,2377,1650,2423],[1731.6,2377,1748,2423],[1834,2377,1849,2421.5]],
[[304.5,2944],[403,2943.6],[480,2943.6,474.4,2988],[555,2943.6,570,2988],[656,2943.6,672,2988]],
[[908.4,2949],[991,2949],[1066,2949,1060,2996],[1146,2952,1163,2996],[1252,2949,1267,2996]],
[[1494,2944],[1579,2945],[1654.7,2942.5,1649,2986],[1735,2944,1751,2988],[1837,2941,1852,2984]]
];
clusterLines.forEach(function(lines, p){
  const col = p%3, row = Math.floor(p/3);
  const ax = colAxisX[col], g = rowGeom[row];
  const panel = mk(clusterG, 'g', {});
  
  
  function xs(i){ return ax + 50.5 + i*84.6; }
  function ys(v){ return g.zero - v*g.unit; }
  function pathOf(vals){ return vals.map(function(v,i){ return (i?'L':'M')+xs(i).toFixed(1)+' '+ys(v).toFixed(1); }).join(''); }
  const title = mk(panel, 'text', {x:titleCentres[col], y:g.title, 'text-anchor':'middle', 'font-size':33, 'font-weight':'bold'}, clusterTitles[p]);
  
  
  lines.forEach(function(vals){
    const l = mk(panel, 'path', {d:pathOf(vals), fill:'none', stroke:clusterColors[p], 'stroke-width':p===1?6.5:4.2, 'stroke-linejoin':'miter'});
    
    
  });
  const mean = mk(panel, 'path', {d:pathOf(clusterMeans[p]), fill:'none', stroke:'#000', 'stroke-width':6.5, 'stroke-linejoin':'round'});
  
  
  const yAxis = mk(panel, 'path', {d:'M'+ax+' '+g.top+'V'+g.bottom, stroke:'#000', 'stroke-width':2, fill:'none'});
  
  
  const xAxis = mk(panel, 'path', {d:'M'+ax+' '+g.bottom+'H'+(ax+438), stroke:'#111', 'stroke-width':4, fill:'none'});
  
  
  yTickValues.forEach(function(v){
    const tk = mk(panel, 'path', {d:'M'+(ax-4)+' '+ys(v)+'H'+ax, stroke:'#333', 'stroke-width':2, fill:'none'});
    
    
    const tl = mk(panel, 'text', {x:ax-11, y:ys(v)+18.5, 'text-anchor':'end', 'font-size':52, 'font-weight':'bold', fill:'#4d4d4d'}, String(v));
    
    
  });
  clusterTimepoints.forEach(function(name, i){
    const tk = mk(panel, 'path', {d:'M'+xs(i)+' '+g.bottom+'v9', stroke:'#333', 'stroke-width':2, fill:'none'});
    
    
    const pos = tickLabelLayout[p][i];
    const parts = name.indexOf('-') >= 0 ? [name.slice(0, name.indexOf('-')+1), name.slice(name.indexOf('-')+1)] : [name];
    parts.forEach(function(s, k){
      const tl = mk(panel, 'text', {x:pos[k*2], y:pos[k*2+1]+15, 'text-anchor':'middle', 'font-size':41}, s);
      
      
    });
  });
});

/* venn counts */
const vennCountG = document.getElementById('vennCounts');
const vennCountAnchors = [[276,708],[514,340],[933,340],[1172,708],[458,535],[725,493],[990,533],[583,708],[864,708],[723,918],[472,1018],[620,1075],[830,1075],[978,1018],[723,1288]];
vennCounts.forEach(function(n, i){
  const a = vennCountAnchors[i];
  const t = mk(vennCountG, 'text', {x:(a[0]*0.7015+2150).toFixed(1), y:(a[1]*0.5102+1300+14).toFixed(1)}, String(n));
  
  
});

/* pca */
const pcaG = document.getElementById('pca');
function px(v){ return 2645 + v*6.98; }
function py(v){ return 2539 - v*7.287; }
const pcaEllipseRadii = {pc1:77.4, pc2:48.2};
const frame = mk(pcaG, 'rect', {x:2052.5, y:2153.6, width:1185, height:769.8, fill:'#fff', stroke:'#111', 'stroke-width':3});


const ell = mk(pcaG, 'ellipse', {cx:px(0), cy:py(0), rx:pcaEllipseRadii.pc1*6.98, ry:pcaEllipseRadii.pc2*7.287, fill:'none', stroke:'#111', 'stroke-width':2.5});


const vLine = mk(pcaG, 'path', {d:'M'+px(0)+' 2153.6V2923.4', stroke:'#111', 'stroke-width':2, fill:'none'});


const hLine = mk(pcaG, 'path', {d:'M2052.5 '+py(0)+'H3237.5', stroke:'#111', 'stroke-width':3, fill:'none'});


pcaXTicks.forEach(function(v){
  const tk = mk(pcaG, 'path', {d:'M'+px(v)+' 2923.4v7', stroke:'#333', 'stroke-width':2, fill:'none'});
  
  
  const tl = mk(pcaG, 'text', {x:px(v), y:2975, 'text-anchor':'middle', 'font-size':50}, String(v));
  
  
});
pcaYTicks.forEach(function(v){
  const tk = mk(pcaG, 'path', {d:'M2045.5 '+py(v)+'H2052.5', stroke:'#333', 'stroke-width':2, fill:'none'});
  
  
  const tl = mk(pcaG, 'text', {x:2044, y:py(v)+18, 'text-anchor':'end', 'font-size':50}, String(v));
  
  
});
const xTitle = mk(pcaG, 'text', {x:2645, y:3032, 'text-anchor':'middle', 'font-size':55, textLength:293, lengthAdjust:'spacingAndGlyphs'}, 'PC1[43.4%]');


const yTitle = mk(pcaG, 'text', {transform:'translate(1951,2537) rotate(-90)', 'text-anchor':'middle', 'font-size':55, textLength:296, lengthAdjust:'spacingAndGlyphs'}, 'PC2[16.9%]');


const pcaStyle = [{shape:'circle',color:'#ff2030',size:26},{shape:'square',color:'#0066ee',size:27},{shape:'diamond',color:'#72c000',size:26},{shape:'circle',color:'#ff7a1a',size:26},{shape:'square',color:'#b65ad6',size:33}];
function marker(parent, s, cx, cy, size){
  if (s.shape === 'circle') return mk(parent, 'circle', {cx:cx, cy:cy, r:size/2, fill:s.color});
  if (s.shape === 'square') return mk(parent, 'rect', {x:cx-size/2, y:cy-size/2, width:size, height:size, fill:s.color});
  const d = size/2+1;
  return mk(parent, 'path', {d:'M'+cx+' '+(cy-d)+'L'+(cx+d)+' '+cy+'L'+cx+' '+(cy+d)+'L'+(cx-d)+' '+cy+'Z', fill:s.color});
}
pcaSeries.forEach(function(points, s){
  points.forEach(function(pt){
    const m = marker(pcaG, pcaStyle[s], px(pt[0]), py(pt[1]), pcaStyle[s].size);
    
    
  });
});
const legendMarkerRows = [2425,2484,2540,2591.5,2652];
const legendTextRows = [2442,2504,2560,2614,2668];
pcaGroups.forEach(function(name, i){
  const m = marker(pcaG, pcaStyle[i], 3276, legendMarkerRows[i], 27);
  
  
  const t = mk(pcaG, 'text', {x:3290, y:legendTextRows[i], 'font-size':36}, name);
  
  
});
</script>
</svg>
</body>
</html>
